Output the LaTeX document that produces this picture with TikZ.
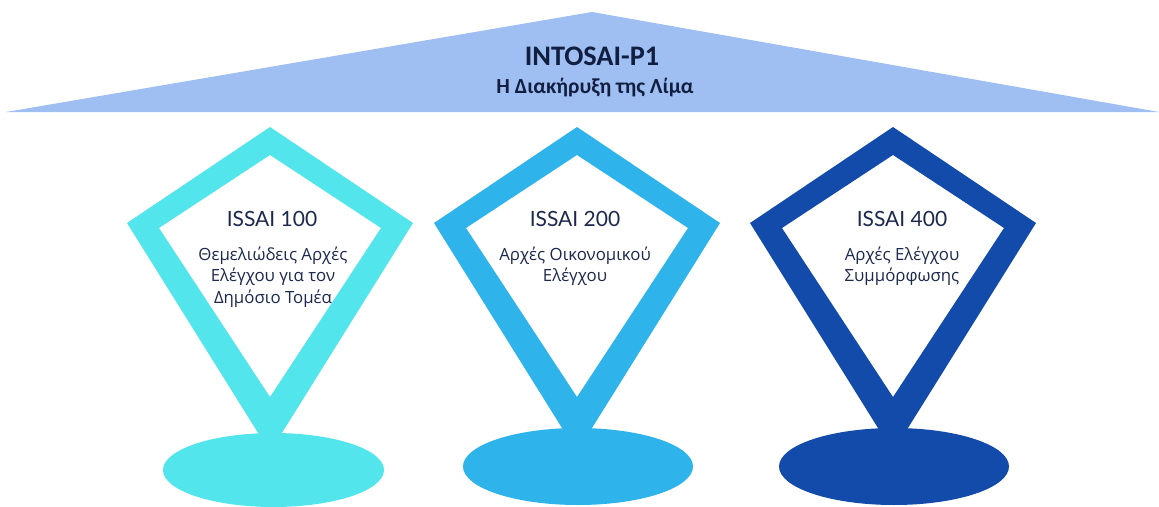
\documentclass[tikz,border=0pt]{standalone}
\usepackage{fontspec}
\setmainfont{Lato}
\newfontfamily\titlefont{Carlito}
\newfontfamily\descfont{Open Sans}
\usetikzlibrary{shapes.geometric}
\definecolor{roof}{RGB}{159,190,242}
\definecolor{kA}{RGB}{82,229,236}
\definecolor{kB}{RGB}{46,180,235}
\definecolor{kC}{RGB}{19,75,171}
\definecolor{navy}{RGB}{28,40,78}
\definecolor{titlenavy}{RGB}{16,30,64}
\tikzset{
  kiteframe/.pic={
    \fill[pic actions, even odd rule]
      (0,127) -- (-143,223) -- (0,452) -- (143,223) -- cycle
      (0,155) -- (-111,228) -- (0,397) -- (111,228) -- cycle;
  },
  base/.style={ellipse, inner sep=0pt, minimum width=230pt, minimum height=77pt},
  heading/.style={text=navy, anchor=base, inner sep=0pt, font=\fontsize{21}{24}\selectfont},
  desc/.style={text=navy, align=center, anchor=base, inner sep=0pt, font=\descfont\fontsize{16.8}{21.5}\selectfont},
}
\begin{document}
\begin{tikzpicture}[x=1pt,y=-1pt]
\useasboundingbox (0,0) rectangle (1159,506);
% roof
\fill[roof] (6,112) -- (592,12) -- (1159,112) -- cycle;
\node[text=titlenavy, anchor=base, inner sep=0pt, font=\titlefont\bfseries\fontsize{28.3}{32}\selectfont] (title) at (592,65) {INTOSAI-P1};
\node[text=titlenavy, anchor=base, inner sep=0pt, font=\titlefont\bfseries\fontsize{21.5}{24}\selectfont] (sub) at (595,93.3) {Η Διακήρυξη της Λίμα};
% kites
\pic[fill=kA] (k1) at (270,0) {kiteframe};
\pic[fill=kB] (k2) at (577,0) {kiteframe};
\pic[fill=kC] (k3) at (893,0) {kiteframe};
% bases
\node[base, fill=kA, minimum width=221pt, minimum height=74pt] (b1) at (273.5,470) {};
\node[base, fill=kB] (b2) at (578,466.5) {};
\node[base, fill=kC] (b3) at (894,466.5) {};
% texts (base anchor = baseline of the last line)
\node[heading] (h1) at (272,226.7) {ISSAI 100};
\node[desc] (d1) at (273,303) {Θεμελιώδεις Αρχές\\Ελέγχου για τον\\Δημόσιο Τομέα};
\node[heading] (h2) at (575,226.7) {ISSAI 200};
\node[desc] (d2) at (575,281.5) {Αρχές Οικονομικού\\Ελέγχου};
\node[heading] (h3) at (902,226.7) {ISSAI 400};
\node[desc] (d3) at (902,281.5) {Αρχές Ελέγχου\\Συμμόρφωσης};
\end{tikzpicture}
\end{document}
